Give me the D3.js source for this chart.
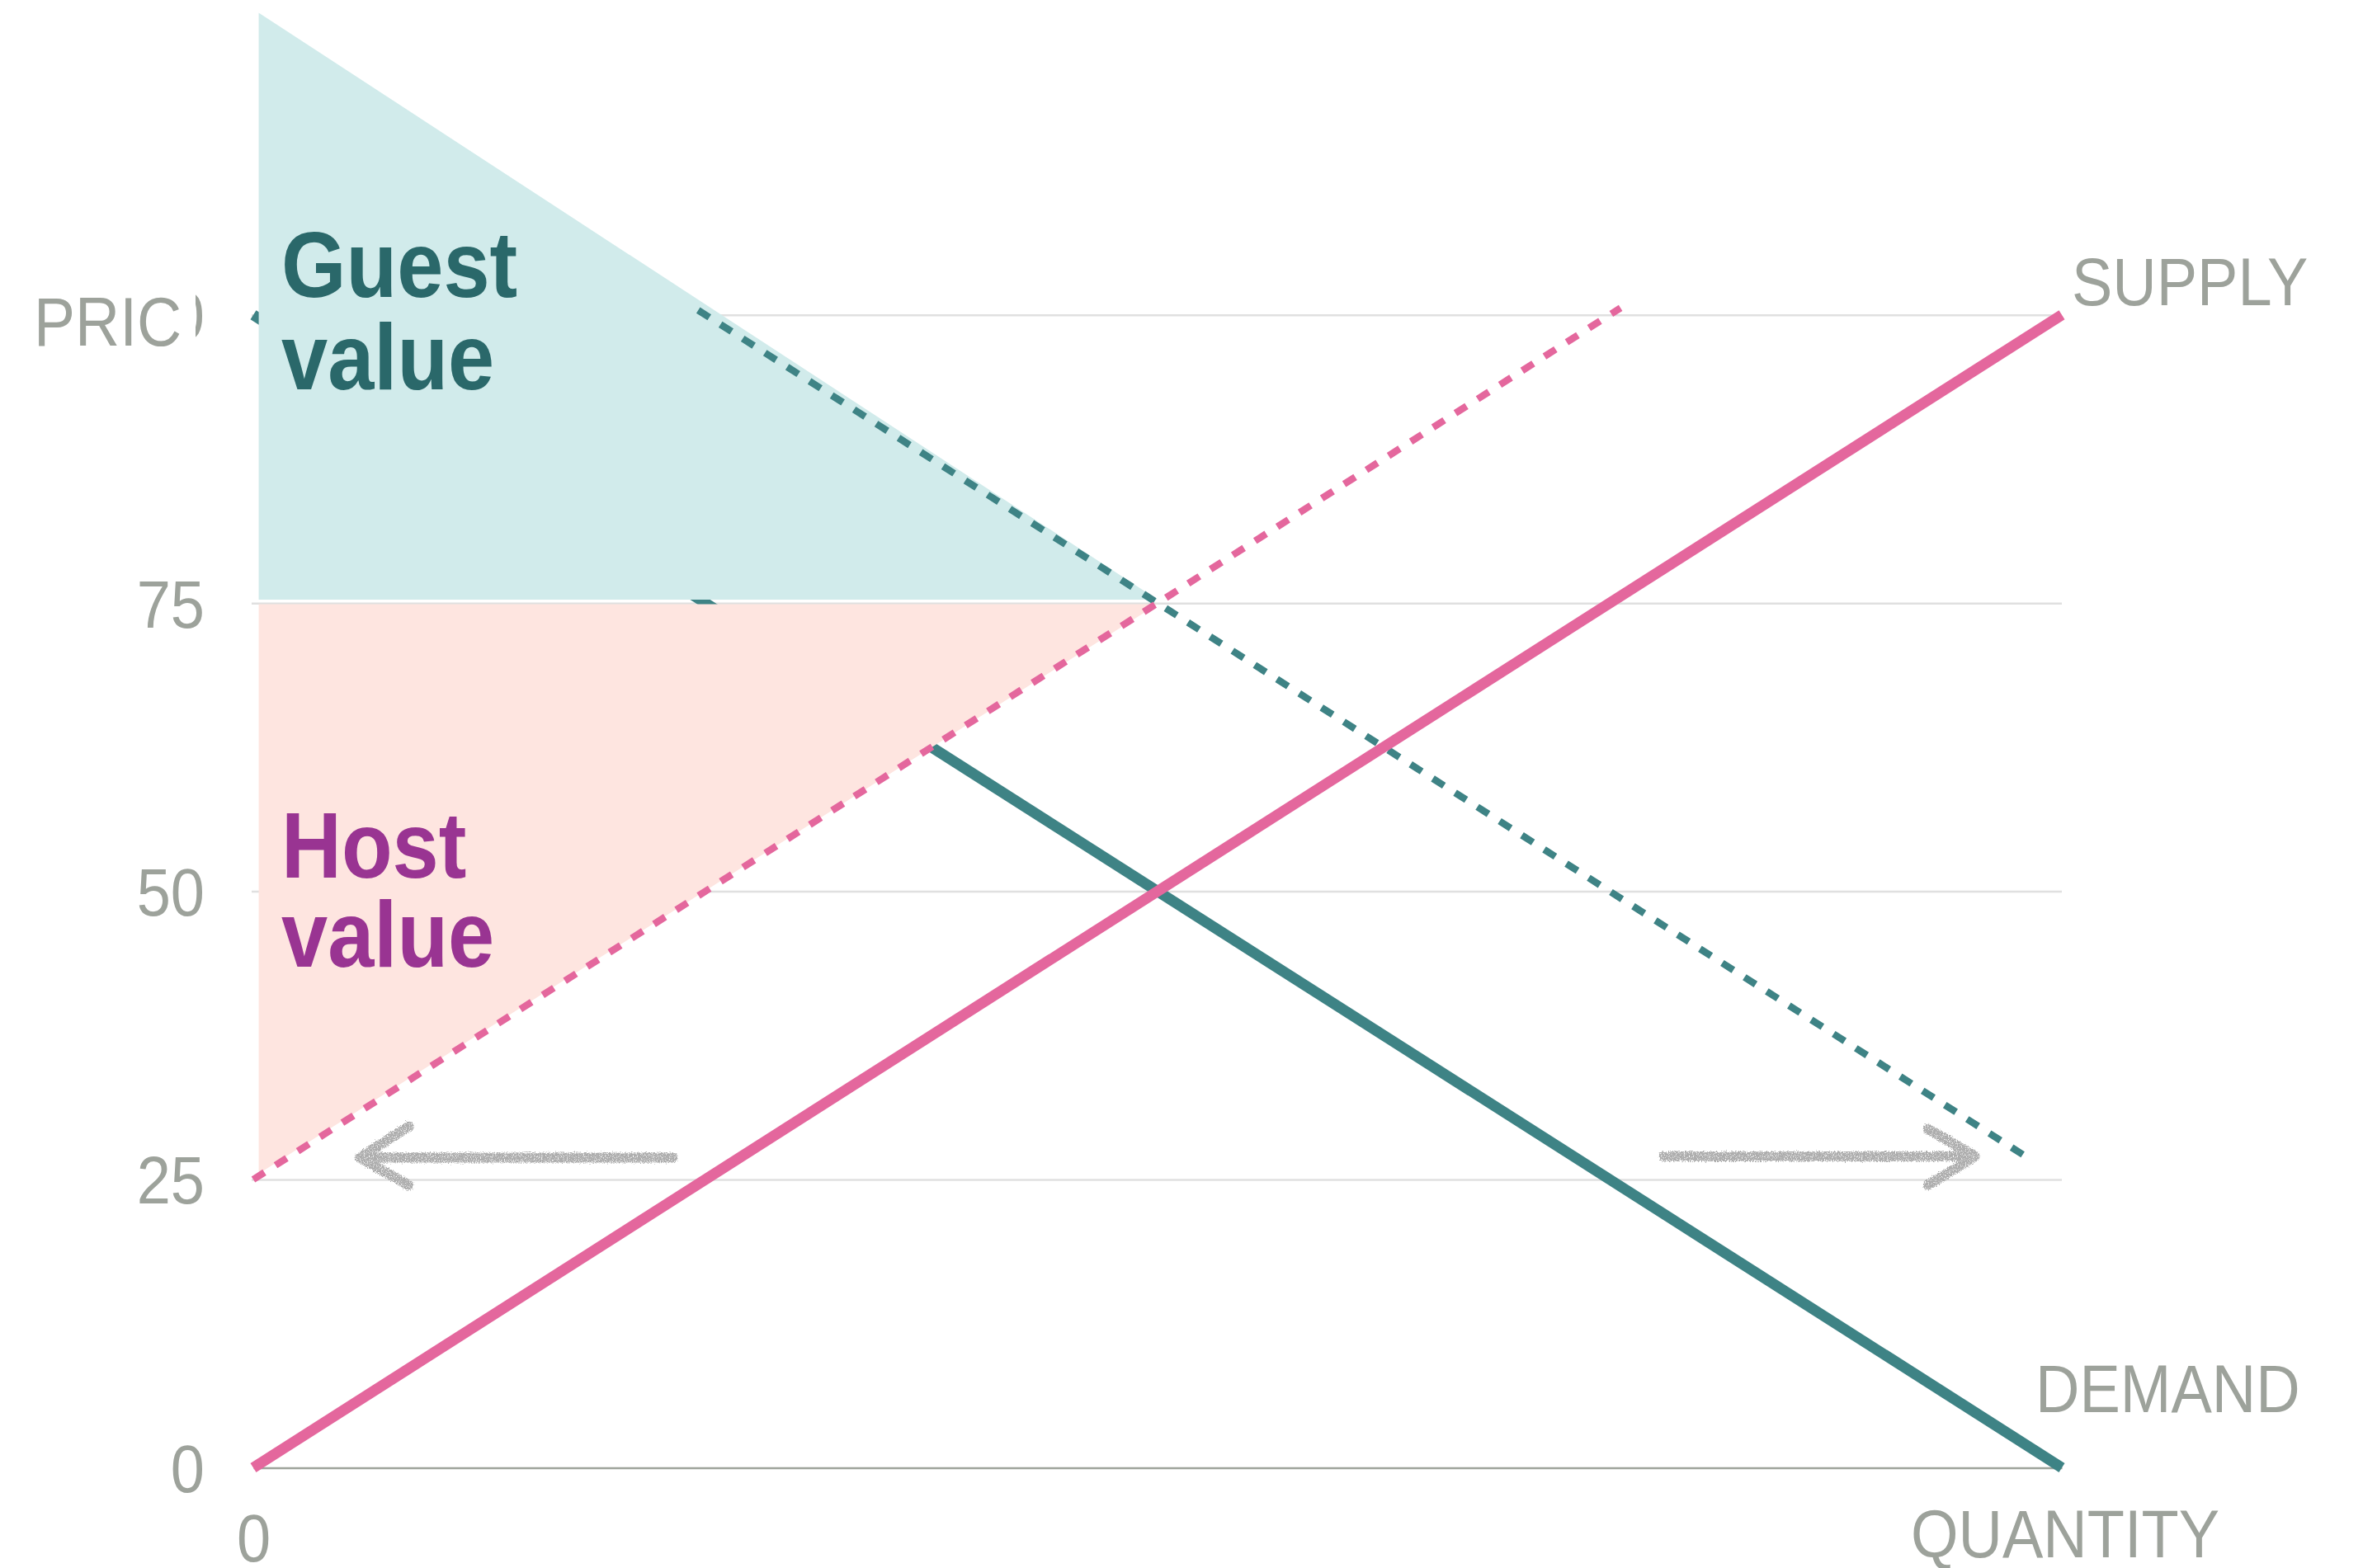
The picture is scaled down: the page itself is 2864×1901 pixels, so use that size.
<!DOCTYPE html>
<html><head><meta charset="utf-8">
<script src="https://cdn.jsdelivr.net/npm/d3@7"></script>
<style>html,body{margin:0;padding:0;background:#fff;} svg{display:block;}</style>
</head><body>
<svg id="chart" width="2864" height="1901"></svg>
<script>
// ---- data ----
const priceTicks = [0, 25, 50, 75, 100];
const priceTickLabels = ["0", "25", "50", "75", "100"];
const quantityTicks = [0];
const quantityTickLabels = ["0"];
const supplyQ = [0, 100];
const supplyP = [0, 100];
const demandQ = [0, 100];
const demandP = [100, 0];
const newSupplyQ = [0, 75.6];
const newSupplyP = [25, 100.6];
const newDemandQ = [24.6, 98];
const newDemandP = [100.4, 27];
const guestAreaQ = [0.3, 0.3, 50];
const guestAreaP = [126.2, 75.3, 75.3];
const hostAreaQ = [0.3, 50, 0.3];
const hostAreaP = [74.9, 74.9, 25.5];
const leftShaftQ = [23.2, 6.3];
const leftShaftP = [26.9, 26.9];
const leftHeadQ = [8.6, 5.9, 8.6];
const leftHeadP = [29.6, 26.9, 24.5];
const rightShaftQ = [78.0, 94.8];
const rightShaftP = [27.0, 27.0];
const rightHeadQ = [92.6, 95.2, 92.6];
const rightHeadP = [29.4, 27.0, 24.5];
const seriesLabels = ["SUPPLY", "DEMAND"];
const axisTitles = ["PRICE", "QUANTITY"];
const areaLabels = [["Guest", "value"], ["Host", "value"]];

// ---- styling ----
const TEAL = "#3e8385", PINK = "#e4679d", BLUE_FILL = "#d1ebeb", PINK_FILL = "#fee5e0";
const GUEST_TXT = "#2a686a", HOST_TXT = "#993492", GRAY_TXT = "#9da29b", GRID = "#e0e0e0", ARROW = "#adadad";
const FONT = "'Liberation Sans', Arial, Helvetica, sans-serif";
const STRETCH = "scale(1,1.1)";

const svg = d3.select("#chart");
const x = d3.scaleLinear().domain([0, 100]).range([307, 2499]);
const y = d3.scaleLinear().domain([0, 100]).range([1779.4, 381.7]);
const zip = (qs, ps) => qs.map((q, i) => [q, ps[i]]);
const line = d3.line().x(d => x(d[0])).y(d => y(d[1]));

// chalk filter for arrows
const defs = svg.append("defs");
const f = defs.append("filter").attr("id", "chalk").attr("filterUnits", "userSpaceOnUse")
  .attr("x", 0).attr("y", 0).attr("width", 2864).attr("height", 1901);
f.append("feTurbulence").attr("type", "fractalNoise").attr("baseFrequency", 0.8).attr("numOctaves", 2).attr("seed", 3).attr("result", "noise");
f.append("feDisplacementMap").attr("in", "SourceGraphic").attr("in2", "noise").attr("scale", 7)
  .attr("xChannelSelector", "R").attr("yChannelSelector", "G").attr("result", "disp");
f.append("feColorMatrix").attr("in", "noise").attr("type", "matrix")
  .attr("values", "0 0 0 0 0  0 0 0 0 0  0 0 0 0 0  4 0 0 0 -0.9").attr("result", "mask");
f.append("feComposite").attr("in", "disp").attr("in2", "mask").attr("operator", "in");
defs.append("clipPath").attr("id", "priceClip").append("rect").attr("x", 0).attr("y", 300).attr("width", 222).attr("height", 200);

// gridlines
const gridG = svg.append("g").attr("transform", `translate(${x(0) - 2},0)`)
  .call(d3.axisLeft(y).tickValues(priceTicks.filter(v => v > 0)).tickSize(-(x(100) - x(0) + 2)).tickFormat(""));
gridG.select(".domain").remove();
gridG.selectAll("line").attr("stroke", GRID).attr("stroke-width", 2.5);

// baseline + x tick
const xAxisG = svg.append("g").attr("transform", `translate(0,${y(0)})`)
  .call(d3.axisBottom(x).tickValues(quantityTicks).tickSize(0).tickSizeOuter(0).tickFormat((d, i) => quantityTickLabels[i]));
xAxisG.select(".domain").attr("stroke", "#9ea39b").attr("stroke-width", 2.5);
xAxisG.selectAll("text").attr("y", 0).attr("dy", null).attr("transform", `translate(0,114) ${STRETCH}`)
  .attr("font-family", FONT).attr("font-size", 74).attr("fill", GRAY_TXT).attr("text-anchor", "middle");

// y tick labels
const yAxisG = svg.append("g").attr("transform", `translate(${x(0)},0)`)
  .call(d3.axisLeft(y).tickValues(priceTicks).tickSize(0).tickFormat((d, i) => priceTickLabels[i]));
yAxisG.select(".domain").remove();
yAxisG.selectAll("text").attr("x", -59).attr("y", 0).attr("dy", null).attr("transform", `translate(0,29) ${STRETCH}`)
  .attr("font-family", FONT).attr("font-size", 74).attr("fill", GRAY_TXT).attr("text-anchor", "end");

// PRICE title (masks most of the top tick label)
svg.append("rect").attr("x", 0).attr("y", 340).attr("width", 237).attr("height", 100).attr("fill", "#fff");
svg.append("g").attr("clip-path", "url(#priceClip)")
  .append("text").attr("transform", `translate(41,419) ${STRETCH}`)
  .attr("font-family", FONT).attr("font-size", 75).attr("fill", GRAY_TXT).text(axisTitles[0]);

// demand solid (under areas)
svg.append("path").attr("d", line(zip(demandQ, demandP))).attr("fill", "none").attr("stroke", TEAL).attr("stroke-width", 13);

// areas
svg.append("path").attr("d", line(zip(guestAreaQ, guestAreaP)) + "Z").attr("fill", BLUE_FILL);
svg.append("path").attr("d", line(zip(hostAreaQ, hostAreaP)) + "Z").attr("fill", PINK_FILL);

// dashed shifted curves
svg.append("path").attr("d", line(zip(newDemandQ, newDemandP))).attr("fill", "none").attr("stroke", TEAL)
  .attr("stroke-width", 8.5).attr("stroke-dasharray", "16,16");
svg.append("path").attr("d", line(zip(newSupplyQ, newSupplyP))).attr("fill", "none").attr("stroke", PINK)
  .attr("stroke-width", 8.5).attr("stroke-dasharray", "16,16");

// supply solid
svg.append("path").attr("d", line(zip(supplyQ, supplyP))).attr("fill", "none").attr("stroke", PINK).attr("stroke-width", 13);

// arrows
const arrowG = svg.append("g").attr("filter", "url(#chalk)").attr("fill", "none").attr("stroke", ARROW)
  .attr("stroke-width", 12).attr("stroke-linecap", "round").attr("stroke-linejoin", "round");
[[leftShaftQ, leftShaftP], [leftHeadQ, leftHeadP], [rightShaftQ, rightShaftP], [rightHeadQ, rightHeadP]]
  .forEach(([q, p]) => arrowG.append("path").attr("d", line(zip(q, p))));

// area labels
const boldLbl = (txt, px, py, col) => svg.append("text").attr("transform", `translate(${px},${py}) scale(1,1.12)`)
  .attr("font-family", FONT).attr("font-weight", "bold").attr("font-size", 101).attr("fill", col).text(txt);
boldLbl(areaLabels[0][0], 341, 360, GUEST_TXT);
boldLbl(areaLabels[0][1], 341, 472, GUEST_TXT);
boldLbl(areaLabels[1][0], 341, 1064, HOST_TXT);
boldLbl(areaLabels[1][1], 341, 1172, HOST_TXT);

// series + axis titles
const grayLbl = (txt, px, py, anchor) => svg.append("text").attr("transform", `translate(${px},${py}) ${STRETCH}`)
  .attr("font-family", FONT).attr("font-size", 74).attr("fill", GRAY_TXT).attr("text-anchor", anchor).text(txt);
grayLbl(seriesLabels[0], 2511, 370, "start");
grayLbl(seriesLabels[1], 2467, 1712, "start");
grayLbl(axisTitles[1], 2690, 1888, "end");
</script>
</body></html>
